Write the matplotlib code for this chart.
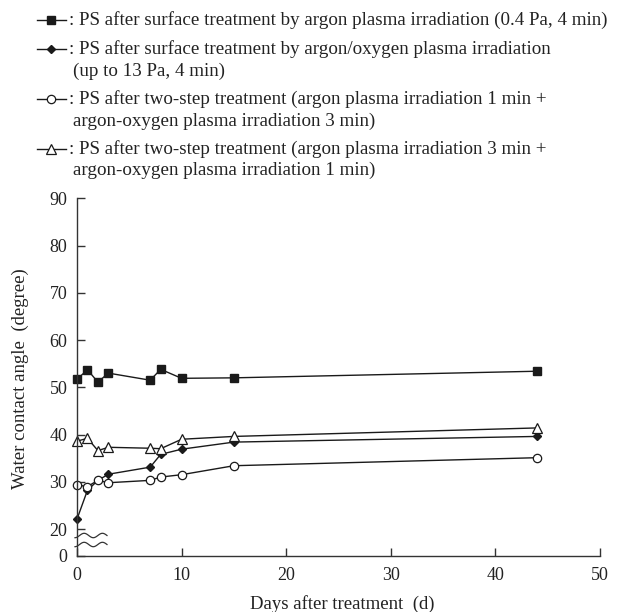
import numpy as np
import matplotlib
matplotlib.use("Agg")
import matplotlib.pyplot as plt
from matplotlib.lines import Line2D

plt.rcParams['font.family'] = ['Liberation Serif', 'DejaVu Serif']

days_sq = [0, 1, 2, 3, 7, 8, 10, 15, 44]
argon = [51.7, 53.7, 51.1, 53.0, 51.5, 53.8, 51.9, 52.0, 53.4]
days_di = [0, 1, 2, 3, 7, 8, 10, 15, 44]
argon_oxygen = [22.1, 28.2, 30.3, 31.6, 33.1, 35.8, 36.9, 38.4, 39.6]
days_ci = [0, 1, 2, 3, 7, 8, 10, 15, 44]
two_step_1_3 = [29.3, 29.0, 30.3, 29.8, 30.3, 31.0, 31.5, 33.4, 35.1]
days_tr = [0, 1, 2, 3, 7, 8, 10, 15, 44]
two_step_3_1 = [38.6, 39.2, 36.6, 37.3, 37.1, 37.0, 39.0, 39.6, 41.4]

legend_lines = [
    [": PS after surface treatment by argon plasma irradiation (0.4 Pa, 4 min)"],
    [": PS after surface treatment by argon/oxygen plasma irradiation",
     "(up to 13 Pa, 4 min)"],
    [": PS after two-step treatment (argon plasma irradiation 1 min +",
     "argon-oxygen plasma irradiation 3 min)"],
    [": PS after two-step treatment (argon plasma irradiation 3 min +",
     "argon-oxygen plasma irradiation 1 min)"],
]

W, H = 618, 612
fig = plt.figure(figsize=(W / 100, H / 100), dpi=100)
ax = fig.add_axes([77 / W, 1 - 556 / H, (600 - 77) / W, (556 - 198.3) / H])

y_zero = 20 - 27 / 4.73  # broken-axis position for the "0" label
ax.set_xlim(0, 50)
ax.set_ylim(y_zero, 90)

ink = '#1a1a1a'
txtc = '#222222'
FS = 13.7
TFS = 13.0
styles = [
    dict(marker='s', ms=6.0, mfc=ink, mec=ink),
    dict(marker='D', ms=4.2, mfc=ink, mec=ink),
    dict(marker='o', ms=6.0, mfc='white', mec=ink, mew=0.9),
    dict(marker='^', ms=7.0, mfc='white', mec=ink, mew=0.9),
]
series = [(days_sq, argon), (days_di, argon_oxygen), (days_ci, two_step_1_3), (days_tr, two_step_3_1)]
for (x, y), st in zip(series, styles):
    ax.plot(x, y, color=ink, lw=1.0, clip_on=False, **st)

for s in ['top', 'right']:
    ax.spines[s].set_visible(False)
for s in ['left', 'bottom']:
    ax.spines[s].set_color('#333333')
    ax.spines[s].set_linewidth(1.0)

ax.set_xticks([0, 10, 20, 30, 40, 50])
ax.set_yticks([y_zero, 20, 30, 40, 50, 60, 70, 80, 90])
ax.set_yticklabels(['0', '20', '30', '40', '50', '60', '70', '80', '90'])
ax.tick_params(direction='in', length=6, width=1.0, color='#333333', labelsize=TFS,
               labelcolor=txtc)
ax.tick_params(axis='x', pad=8)
ax.tick_params(axis='y', pad=7)
ax.set_xlabel('Days after treatment  (d)', fontsize=13.5, color=txtc)
ax.xaxis.set_label_coords((342 - 77) / (600 - 77), -(595 - 556) / 357.7)
ax.xaxis.label.set_va('top')
ax.set_ylabel('Water contact angle  (degree)', fontsize=13.5, color=txtc)
ax.yaxis.set_label_coords((29 - 77) / (600 - 77), (556 - 379) / 357.7)

# break marks
for yc in (535.5, 544.5):
    t = np.linspace(0, 1, 80)
    xs = 75 + 32 * t
    ys = yc + 2.2 * np.cos(2 * np.pi * 1.75 * t)
    fig.add_artist(Line2D(xs / W, 1 - ys / H, color='#333333', lw=0.9))

# legend
rows = [[20], [49, 71], [99, 121], [149, 170]]
for yrows, st, txts in zip(rows, styles, legend_lines):
    yf = 1 - yrows[0] / H
    fig.add_artist(Line2D([37 / W, 51 / W, 66 / W], [yf, yf, yf], color=ink, lw=1.0,
                          markevery=[1], **st))
    for i, (yr, txt) in enumerate(zip(yrows, txts)):
        fig.text((69 if i == 0 else 73) / W, 1 - yr / H, txt, fontsize=FS, color=txtc,
                 va='center', ha='left')

fig.savefig('out.png', dpi=100)
